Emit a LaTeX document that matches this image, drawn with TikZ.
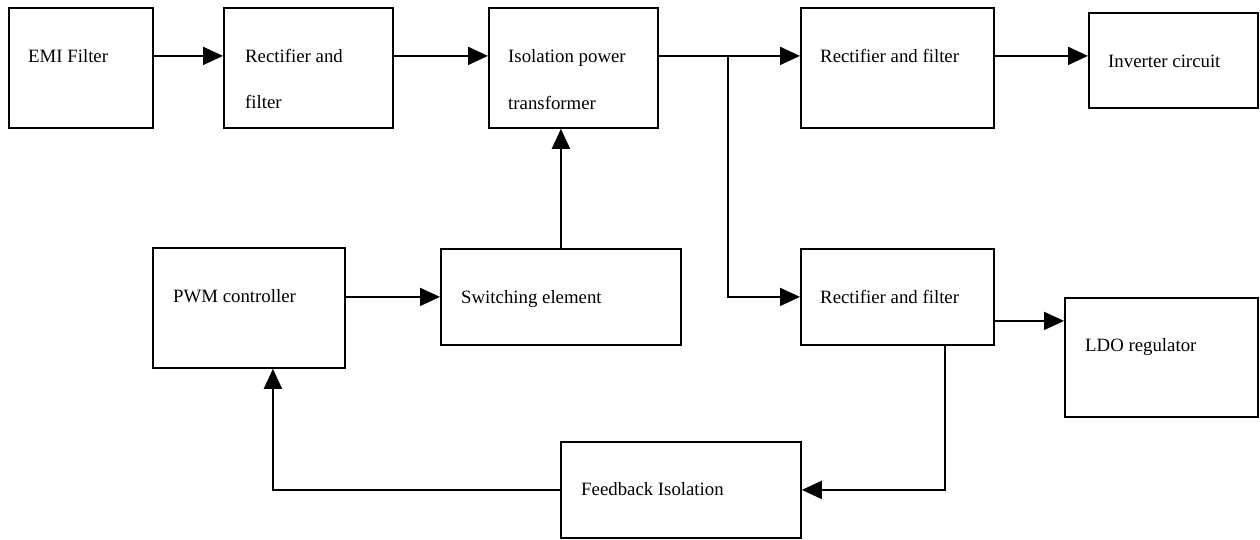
\documentclass[tikz,border=0pt]{standalone}
\usepackage{fontspec}
\setmainfont{Liberation Serif}
\usepackage{tikz}
\usetikzlibrary{shapes,arrows.meta}

\begin{document}
\begin{tikzpicture}[x=1pt, y=-1pt]
    % Define block styles
    \tikzstyle{block} = [rectangle, draw, line width=1.8pt, anchor=north west,
        inner sep=0pt]
    \tikzstyle{label} = [anchor=base west, inner sep=0pt,
        font=\fontsize{18.8}{22}\selectfont]
    \tikzstyle{line} = [draw, line width=1.8pt,
        -{Triangle[length=20pt, width=18pt]}]
    \tikzstyle{wire} = [draw, line width=1.8pt]

    \useasboundingbox (0,0) rectangle (1260,539);

    % Place nodes
    \node [block, minimum width=144pt, minimum height=120pt] (emi) at (8,7) {};
    \node [block, minimum width=169pt, minimum height=120pt] (rect) at (223,7) {};
    \node [block, minimum width=169pt, minimum height=120pt] (iso) at (488,7) {};
    \node [block, minimum width=193pt, minimum height=120pt] (recout) at (800,7) {};
    \node [block, minimum width=169pt, minimum height=95pt] (inv) at (1088,12) {};
    \node [block, minimum width=192pt, minimum height=120pt] (pwm) at (152,247) {};
    \node [block, minimum width=240pt, minimum height=96pt] (switch) at (440,248) {};
    \node [block, minimum width=193pt, minimum height=96pt] (recldo) at (800,248) {};
    \node [block, minimum width=193pt, minimum height=119pt] (ldo) at (1064,297) {};
    \node [block, minimum width=240pt, minimum height=96pt] (fb) at (560,441) {};

    % Block texts
    \node [label] (emitxt) at (28,62) {EMI Filter};
    \node [label] (recttxt) at (245,62) {Rectifier and};
    \node [label] (recttxtb) at (245,108) {filter};
    \node [label] (isotxt) at (508,62) {Isolation power};
    \node [label] (isotxtb) at (508,109) {transformer};
    \node [label] (recouttxt) at (820,62) {Rectifier and filter};
    \node [label] (invtxt) at (1108,67) {Inverter circuit};
    \node [label] (pwmtxt) at (173,302) {PWM controller};
    \node [label] (switchtxt) at (461,303) {Switching element};
    \node [label] (recldotxt) at (820,303) {Rectifier and filter};
    \node [label] (ldotxt) at (1085,351) {LDO regulator};
    \node [label] (fbtxt) at (581,495) {Feedback Isolation};

    % Helper points
    \coordinate (split) at ([yshift=12pt]iso.east -| 728,0);
    \coordinate (ldoin) at ([yshift=-24pt]recldo.east);
    \coordinate (fbtap) at ([xshift=47.5pt]recldo.south);
    \coordinate (pwmin) at ([xshift=24pt]pwm.south);

    % Draw edges
    \path [line] ([yshift=12pt]emi.east) -- ([yshift=12pt]rect.west);
    \path [line] ([yshift=12pt]rect.east) -- ([yshift=12pt]iso.west);
    \path [wire] ([yshift=12pt]iso.east) -- (split);
    \path [line] (split) -- ([yshift=12pt]recout.west);
    \path [line] (split) |- (recldo.west);
    \path [line] ([yshift=12pt]recout.east) -- (inv.west |- split);
    \path [line] ([yshift=11pt]pwm.east) -- ([yshift=11pt]pwm.east -| switch.west);
    \path [line] (switch.north) -- (switch.north |- iso.south);
    \path [line] (ldoin) -- (ldoin -| ldo.west);
    \path [line] (fbtap) |- (fb.east);
    \path [line] (fb.west) -| (pwmin);
\end{tikzpicture}
\end{document}
